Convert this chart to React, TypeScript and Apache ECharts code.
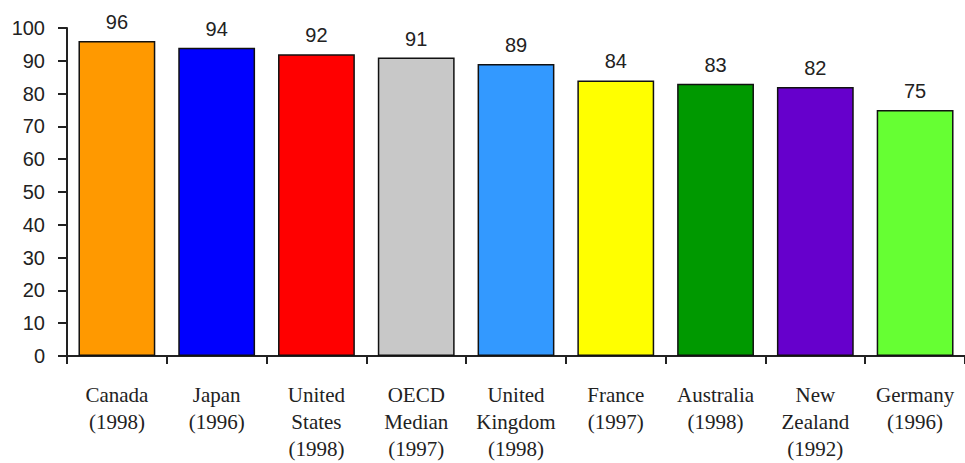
import React, { useEffect, useRef } from "react";
import * as echarts from "echarts";

const categories = [
  "Canada\n(1998)",
  "Japan\n(1996)",
  "United\nStates\n(1998)",
  "OECD\nMedian\n(1997)",
  "United\nKingdom\n(1998)",
  "France\n(1997)",
  "Australia\n(1998)",
  "New\nZealand\n(1992)",
  "Germany\n(1996)",
];
const values = [96, 94, 92, 91, 89, 84, 83, 82, 75];
const colors = ["#FF9900", "#0000FF", "#FF0000", "#C8C8C8", "#3399FF", "#FFFF00", "#009900", "#6600CC", "#66FF33"];

export default function App() {
  const ref = useRef<HTMLDivElement>(null);
  useEffect(() => {
    document.body.style.margin = "0";
    const chart = echarts.init(ref.current!, undefined, { renderer: "svg" });
    chart.setOption({
      animation: false,
      backgroundColor: "#ffffff",
      grid: { left: 67, right: -2, top: 28, bottom: 107, containLabel: false },
      xAxis: {
        type: "category",
        data: categories,
        axisLine: { lineStyle: { color: "#222", width: 2 } },
        axisTick: { show: true, length: 8, alignWithLabel: false, lineStyle: { color: "#222", width: 2 } },
        axisLabel: {
          interval: 0,
          margin: 25,
          fontFamily: "Liberation Serif",
          fontSize: 21,
          lineHeight: 27,
          color: "#222",
        },
      },
      yAxis: {
        type: "value",
        min: 0,
        max: 100,
        interval: 10,
        splitLine: { show: false },
        axisLine: { show: true, lineStyle: { color: "#222", width: 2 } },
        axisTick: { show: true, length: 9, lineStyle: { color: "#222", width: 2 } },
        axisLabel: { margin: 22, fontFamily: "Liberation Sans", fontSize: 20, color: "#222" },
      },
      series: [
        {
          type: "bar",
          data: values.map((v, i) => ({ value: v, itemStyle: { color: colors[i] } })),
          barCategoryGap: "23%",
          itemStyle: { borderColor: "#111", borderWidth: 1.5 },
          label: {
            show: true,
            position: "top",
            distance: 9,
            fontFamily: "Liberation Sans",
            fontSize: 20,
            color: "#222",
          },
        },
      ],
    });
    return () => chart.dispose();
  }, []);
  return <div ref={ref} style={{ width: 965, height: 463, position: "absolute", left: 0, top: 0 }} />;
}
